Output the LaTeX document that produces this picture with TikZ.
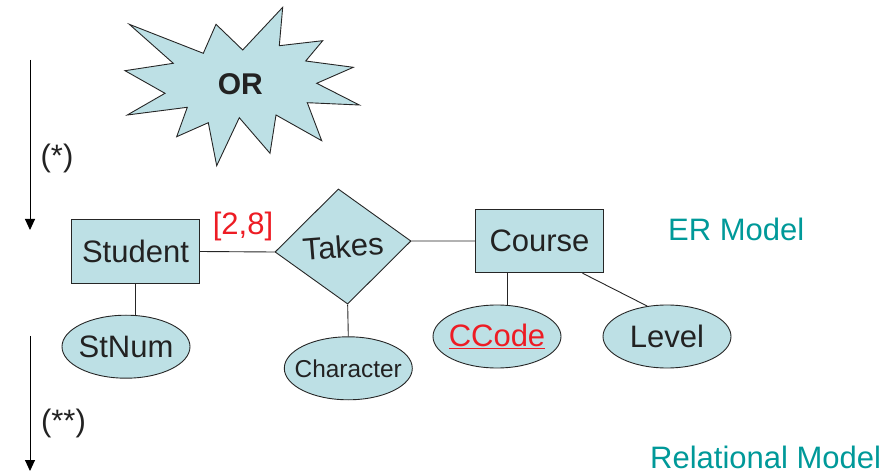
\documentclass[tikz,border=0pt]{standalone}
\usepackage{fontspec}
\setmainfont{Liberation Sans}
\usetikzlibrary{shapes.geometric,arrows.meta,calc}
\definecolor{boxfill}{RGB}{189,224,229}
\definecolor{tealtxt}{RGB}{0,153,153}
\definecolor{redtxt}{RGB}{237,28,36}
\definecolor{txt}{RGB}{34,34,34}
\newcommand{\zw}[1]{\makebox[0pt]{#1}}
\begin{document}
\begin{tikzpicture}[x=1pt,y=-1pt,
  bigfont/.style={font=\fontsize{31}{36}\selectfont},
  entity/.style={rectangle, draw=black!85, fill=boxfill, line width=0.9pt, inner sep=0pt,
    minimum width=127.5pt, minimum height=63.5pt, text=txt, bigfont},
  attr/.style={ellipse, draw=black!85, fill=boxfill, line width=0.9pt, inner sep=0pt,
    minimum width=128pt, minimum height=63pt, text=txt, bigfont},
  rel/.style={diamond, draw=black!85, fill=boxfill, line width=0.9pt, inner sep=0pt,
    minimum width=136.5pt, minimum height=115.5pt, text=txt, bigfont},
  conn/.style={draw=black!85, line width=0.9pt},
  flow/.style={draw=black, line width=0.9pt, -{Triangle[width=10pt,length=11pt]}},
  lbl/.style={inner sep=0pt, text=txt, bigfont},
  model/.style={inner sep=0pt, text=tealtxt, bigfont, anchor=west}
]
\useasboundingbox (0,0) rectangle (887,473);

% starburst
\draw[draw=black!85, fill=boxfill, line width=0.9pt]
  (129.3,24.3) -- (203.3,53.3) -- (216,24.3) -- (242.7,50) -- (282.7,7.3) --
  (279.3,45.7) -- (322.7,40.7) -- (305.7,61) -- (353.3,67.3) -- (316.7,83.3) --
  (359.3,105) -- (307.3,102.7) -- (321.7,140.7) -- (276,115) -- (270,153.3) --
  (239.3,117.7) -- (216.7,165.7) -- (208.3,122.7) -- (176.7,136.7) -- (187.3,107.3) --
  (127.3,115) -- (165,93.3) -- (125,70.7) -- (173.3,63.3) -- cycle;
\node[lbl, font=\fontsize{30}{36}\selectfont\bfseries] (or) at (240.3,84.5) {OR};

% side arrows
\coordinate (a1s) at (30,60);
\coordinate (a1e) at (30,230);
\draw[flow] (a1s) -- (a1e);
\node[lbl] (star1) at (57,158) {(*)};
\coordinate (a2s) at (30,336);
\coordinate (a2e) at (30,471);
\draw[flow] (a2s) -- (a2e);
\node[lbl] (star2) at (63.5,423) {(**)};

% ER nodes
\node[entity] (student) at (135.5,251.5) {Student};
\node[entity] (course) at (539.5,241) {Course};
\node[rel, rotate=4.6] (takes) at (343,246.5) {Takes};
\node[attr] (stnum) at (126,346.7) {\zw{StNum}};
\node[attr, font=\fontsize{24.4}{29}\selectfont] (character) at (348.3,368.3) {\zw{Character}};
\node[attr, text=redtxt] (ccode) at (497,336.5) {\zw{\underline{CCode}}};
\node[attr] (level) at (667,336.5) {\zw{Level}};

% connectors
\draw[conn] (student.east) -- (takes.west);
\draw[conn] (takes.east) -- (course.west);
\draw[conn] (student.south) -- (student.south |- stnum.north);
\draw[conn] (takes.south) -- (character.north);
\coordinate (cc) at ($(course.south west)!0.25!(course.south east)$);
\draw[conn] (cc) -- (cc |- ccode.north);
\coordinate (cl) at ($(course.south west)!0.835!(course.south east)$);
\draw[conn] (cl) -- (level.123);

% labels
\node[lbl, text=redtxt] (card) at (243,226.7) {[2,8]};
\node[model] (er) at (668,229.5) {ER Model};
\node[model] (relm) at (650,457) {Relational Model};
\end{tikzpicture}
\end{document}
